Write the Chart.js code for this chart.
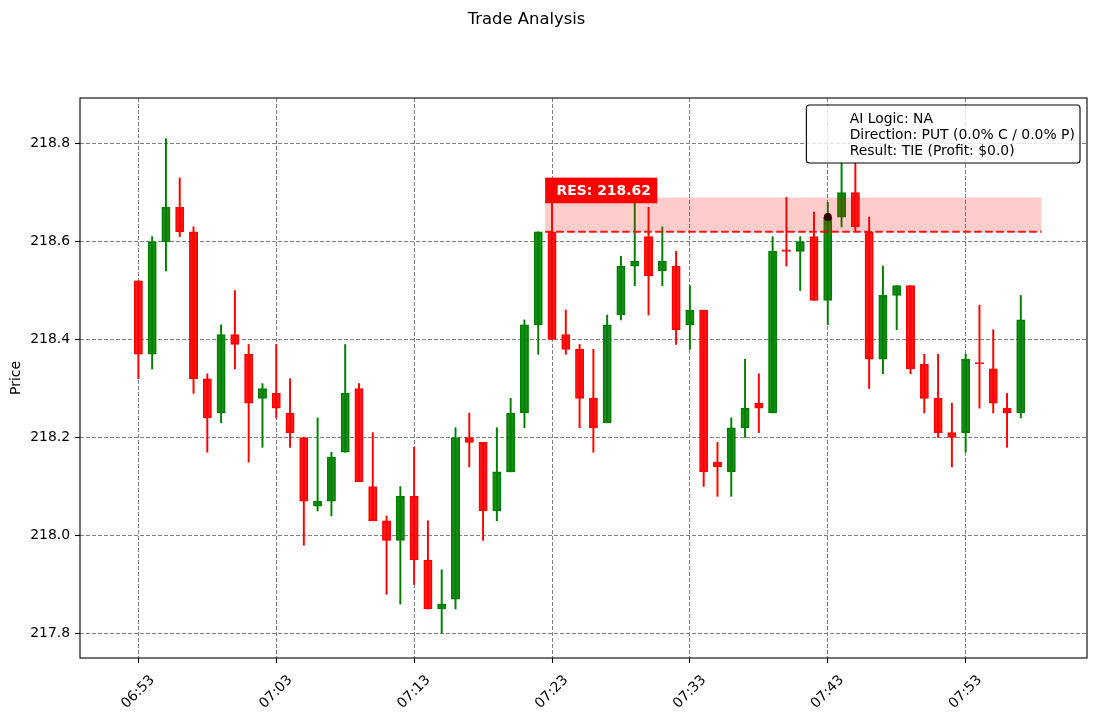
<!DOCTYPE html>
<html>
<head>
<meta charset="utf-8">
<title>Trade Analysis</title>
<script src="https://cdn.jsdelivr.net/npm/chart.js@4.4.1/dist/chart.umd.min.js"></script>
<style>
  html, body { margin: 0; padding: 0; background: #fff; }
  #wrap { width: 1097px; height: 716px; }
</style>
</head>
<body>
<div id="wrap"><canvas id="tradeChart" width="1097" height="716"></canvas></div>
<script>
// 1-minute candles
const times = [
    "06:53", "06:54", "06:55", "06:56", "06:57", "06:58", "06:59", "07:00", "07:01", "07:02",
    "07:03", "07:04", "07:05", "07:06", "07:07", "07:08", "07:09", "07:10", "07:11", "07:12",
    "07:13", "07:14", "07:15", "07:16", "07:17", "07:18", "07:19", "07:20", "07:21", "07:22",
    "07:23", "07:24", "07:25", "07:26", "07:27", "07:28", "07:29", "07:30", "07:31", "07:32",
    "07:33", "07:34", "07:35", "07:36", "07:37", "07:38", "07:39", "07:40", "07:41", "07:42",
    "07:43", "07:44", "07:45", "07:46", "07:47", "07:48", "07:49", "07:50", "07:51", "07:52",
    "07:53", "07:54", "07:55", "07:56", "07:57"
];
const opens = [
    218.52, 218.37, 218.60, 218.67, 218.62, 218.32, 218.25, 218.41, 218.37, 218.28,
    218.29, 218.25, 218.20, 218.06, 218.07, 218.17, 218.30, 218.10, 218.03, 217.99,
    218.08, 217.95, 217.85, 217.87, 218.20, 218.19, 218.05, 218.13, 218.25, 218.43,
    218.62, 218.41, 218.38, 218.28, 218.23, 218.45, 218.55, 218.61, 218.54, 218.55,
    218.43, 218.46, 218.15, 218.13, 218.22, 218.27, 218.25, 218.58, 218.58, 218.61,
    218.48, 218.65, 218.70, 218.62, 218.36, 218.49, 218.51, 218.35, 218.28, 218.21,
    218.21, 218.35, 218.34, 218.26, 218.25
];
const highs = [
    218.52, 218.61, 218.81, 218.73, 218.63, 218.33, 218.43, 218.50, 218.39, 218.31,
    218.39, 218.32, 218.20, 218.24, 218.17, 218.39, 218.31, 218.21, 218.04, 218.10,
    218.18, 218.03, 217.93, 218.22, 218.25, 218.19, 218.22, 218.28, 218.44, 218.62,
    218.70, 218.46, 218.39, 218.38, 218.45, 218.57, 218.68, 218.67, 218.63, 218.58,
    218.51, 218.46, 218.19, 218.24, 218.36, 218.33, 218.61, 218.69, 218.61, 218.66,
    218.68, 218.76, 218.76, 218.65, 218.55, 218.51, 218.51, 218.37, 218.37, 218.27,
    218.37, 218.47, 218.42, 218.29, 218.49
];
const lows = [
    218.32, 218.34, 218.54, 218.61, 218.29, 218.17, 218.23, 218.34, 218.15, 218.18,
    218.24, 218.18, 217.98, 218.05, 218.04, 218.17, 218.11, 218.03, 217.88, 217.86,
    217.90, 217.85, 217.80, 217.85, 218.14, 217.99, 218.03, 218.13, 218.22, 218.37,
    218.40, 218.37, 218.22, 218.17, 218.23, 218.44, 218.51, 218.45, 218.51, 218.39,
    218.38, 218.10, 218.08, 218.08, 218.20, 218.21, 218.25, 218.55, 218.50, 218.48,
    218.43, 218.63, 218.62, 218.30, 218.33, 218.42, 218.33, 218.25, 218.20, 218.14,
    218.17, 218.26, 218.25, 218.18, 218.24
];
const closes = [
    218.37, 218.60, 218.67, 218.62, 218.32, 218.24, 218.41, 218.39, 218.27, 218.30,
    218.26, 218.21, 218.07, 218.07, 218.16, 218.29, 218.11, 218.03, 217.99, 218.08,
    217.95, 217.85, 217.86, 218.20, 218.19, 218.05, 218.13, 218.25, 218.43, 218.62,
    218.40, 218.38, 218.28, 218.22, 218.43, 218.55, 218.56, 218.53, 218.56, 218.42,
    218.46, 218.13, 218.14, 218.22, 218.26, 218.26, 218.58, 218.58, 218.60, 218.48,
    218.65, 218.70, 218.63, 218.36, 218.49, 218.51, 218.34, 218.28, 218.21, 218.20,
    218.36, 218.35, 218.27, 218.25, 218.44
];

const xTickLabels = ["06:53", "07:03", "07:13", "07:23", "07:33", "07:43", "07:53"];
const yTickValues = [217.8, 218.0, 218.2, 218.4, 218.6, 218.8];
const xMinTime = "06:48:46";
const xMaxTime = "08:01:48";
const yMin = 217.75;
const yMax = 218.893;

// resistance zone
const resLevel = 218.62;
const resTop = 218.69;
const resFrom = "07:22:30";
const resTo = "07:58:30";

// entry point
const entryTime = "07:43";
const entryPrice = 218.65;

const infoLines = [
    "AI Logic: NA",
    "Direction: PUT (0.0% C / 0.0% P)",
    "Result: TIE (Profit: $0.0)"
];

// "HH:MM" or "HH:MM:SS" -> minutes since midnight
function toMinutes(t) {
    const p = t.split(":").map(Number);
    return p[0] * 60 + p[1] + (p[2] || 0) / 60;
}

const UP_FILL = "rgba(0,128,0,0.9)";
const DOWN_FILL = "rgba(255,0,0,0.9)";
const FONT = "DejaVu Sans";

const isUp = closes.map((c, i) => c > opens[i]);

const bodies = times.map((t, i) => ({ x: toMinutes(t), y: [opens[i], closes[i]] }));
const wicks = times.map((t, i) => ({ x: toMinutes(t), y: [lows[i], highs[i]] }));

// zone, level line, label, frame, info box and title drawn on top
const overlayPlugin = {
    id: "overlay",
    afterDatasetsDraw(chart) {
        const { ctx, chartArea: a } = chart;
        const x = chart.scales.x;
        const y = chart.scales.y;
        ctx.save();

        const x0 = x.getPixelForValue(toMinutes(resFrom));
        const x1 = x.getPixelForValue(toMinutes(resTo));
        const yTop = y.getPixelForValue(resTop);
        const yLvl = y.getPixelForValue(resLevel);

        ctx.fillStyle = "rgba(255,0,0,0.2)";
        ctx.fillRect(x0, yTop, x1 - x0, yLvl - yTop);

        ctx.strokeStyle = "rgba(255,0,0,0.9)";
        ctx.lineWidth = 2;
        ctx.setLineDash([7.7, 3.3]);
        ctx.beginPath();
        ctx.moveTo(x0, yLvl);
        ctx.lineTo(x1, yLvl);
        ctx.stroke();
        ctx.setLineDash([]);

        // RES label
        const label = "RES: " + resLevel.toFixed(2);
        ctx.font = "bold 13.9px '" + FONT + "'";
        const tw = ctx.measureText(label).width;
        const cy = yTop - 7;
        ctx.fillStyle = "red";
        ctx.fillRect(x0, cy - 12.8, tw + 18, 25.6);
        ctx.fillStyle = "#fff";
        ctx.textAlign = "left";
        ctx.textBaseline = "middle";
        ctx.fillText(label, x0 + 11.5, cy + 0.5);

        // axes frame
        ctx.strokeStyle = "#000";
        ctx.lineWidth = 1.1;
        ctx.strokeRect(a.left, a.top, a.right - a.left, a.bottom - a.top);

        // info box (upper right)
        ctx.font = "13.9px '" + FONT + "'";
        const maxW = Math.max(...infoLines.map(l => ctx.measureText(l).width));
        const bw = maxW + 48.5;
        const bh = 58;
        const bx = a.right - 7 - bw;
        const by = a.top + 7;
        const r = 3;
        ctx.beginPath();
        ctx.moveTo(bx + r, by);
        ctx.lineTo(bx + bw - r, by);
        ctx.quadraticCurveTo(bx + bw, by, bx + bw, by + r);
        ctx.lineTo(bx + bw, by + bh - r);
        ctx.quadraticCurveTo(bx + bw, by + bh, bx + bw - r, by + bh);
        ctx.lineTo(bx + r, by + bh);
        ctx.quadraticCurveTo(bx, by + bh, bx, by + bh - r);
        ctx.lineTo(bx, by + r);
        ctx.quadraticCurveTo(bx, by, bx + r, by);
        ctx.closePath();
        ctx.fillStyle = "rgba(255,255,255,0.8)";
        ctx.fill();
        ctx.strokeStyle = "#000";
        ctx.lineWidth = 1.1;
        ctx.stroke();
        ctx.fillStyle = "#000";
        ctx.textBaseline = "alphabetic";
        infoLines.forEach((l, i) => ctx.fillText(l, bx + 43.3, by + 18 + i * 16));

        // figure title
        ctx.font = "16.4px '" + FONT + "'";
        ctx.textAlign = "center";
        ctx.fillText("Trade Analysis", 526.5, 24);

        ctx.restore();
    }
};

Chart.defaults.font.family = FONT;
Chart.defaults.color = "#000";

const ctx = document.getElementById("tradeChart").getContext("2d");

new Chart(ctx, {
    type: "bar",
    data: {
        datasets: [
            {
                type: "scatter",
                label: "Entry",
                data: [{ x: toMinutes(entryTime), y: entryPrice }],
                pointRadius: 4,
                pointBackgroundColor: "#000",
                pointBorderColor: "#000",
                pointBorderWidth: 0,
                order: 0,
            },
            {
                label: "Body",
                data: bodies,
                backgroundColor: isUp.map(u => (u ? UP_FILL : DOWN_FILL)),
                borderColor: isUp.map(u => (u ? "green" : "red")),
                borderWidth: 1,
                borderSkipped: false,
                barThickness: 8.3,
                minBarLength: 1.5,
                grouped: false,
                order: 1,
            },
            {
                label: "Wick",
                data: wicks,
                backgroundColor: isUp.map(u => (u ? "green" : "red")),
                borderWidth: 0,
                barThickness: 1.3,
                grouped: false,
                order: 2,
            },
        ],
    },
    options: {
        responsive: false,
        animation: false,
        layout: { padding: { top: 98, right: 10, bottom: 0, left: 0 } },
        scales: {
            x: {
                type: "linear",
                offset: false,
                bounds: "data",
                min: toMinutes(xMinTime),
                max: toMinutes(xMaxTime),
                afterBuildTicks: (axis) => {
                    axis.ticks = xTickLabels.map(l => ({ value: toMinutes(l) }));
                },
                afterFit: (s) => { s.height = 58; },
                ticks: {
                    autoSkip: false,
                    minRotation: 45,
                    maxRotation: 45,
                    labelOffset: 14,
                    padding: 9,
                    font: { size: 13.9 },
                    callback: (v, i) => xTickLabels[i],
                },
                grid: {
                    color: "#808080",
                    lineWidth: 1,
                    offset: false,
                    tickColor: "#000",
                    tickLength: 5,
                    tickWidth: 1.1,
                    borderDash: [4, 2],
                },
                border: { display: false, dash: [4, 2] },
            },
            y: {
                type: "linear",
                bounds: "data",
                min: yMin,
                max: yMax,
                afterBuildTicks: (axis) => {
                    axis.ticks = yTickValues.map(v => ({ value: v }));
                },
                afterFit: (s) => { s.width = 80; },
                ticks: {
                    padding: 5,
                    font: { size: 13.9 },
                    callback: (v) => Number(v).toFixed(1),
                },
                grid: {
                    color: "#808080",
                    lineWidth: 1,
                    tickColor: "#000",
                    tickLength: 5,
                    tickWidth: 1.1,
                    borderDash: [4, 2],
                },
                border: { display: false, dash: [4, 2] },
                title: {
                    display: true,
                    text: "Price",
                    font: { size: 13.9 },
                    padding: { top: 8, bottom: 0 },
                },
            },
        },
        plugins: {
            legend: { display: false },
            tooltip: { enabled: false },
            title: { display: false },
        },
    },
    plugins: [overlayPlugin],
});
</script>
</body>
</html>
